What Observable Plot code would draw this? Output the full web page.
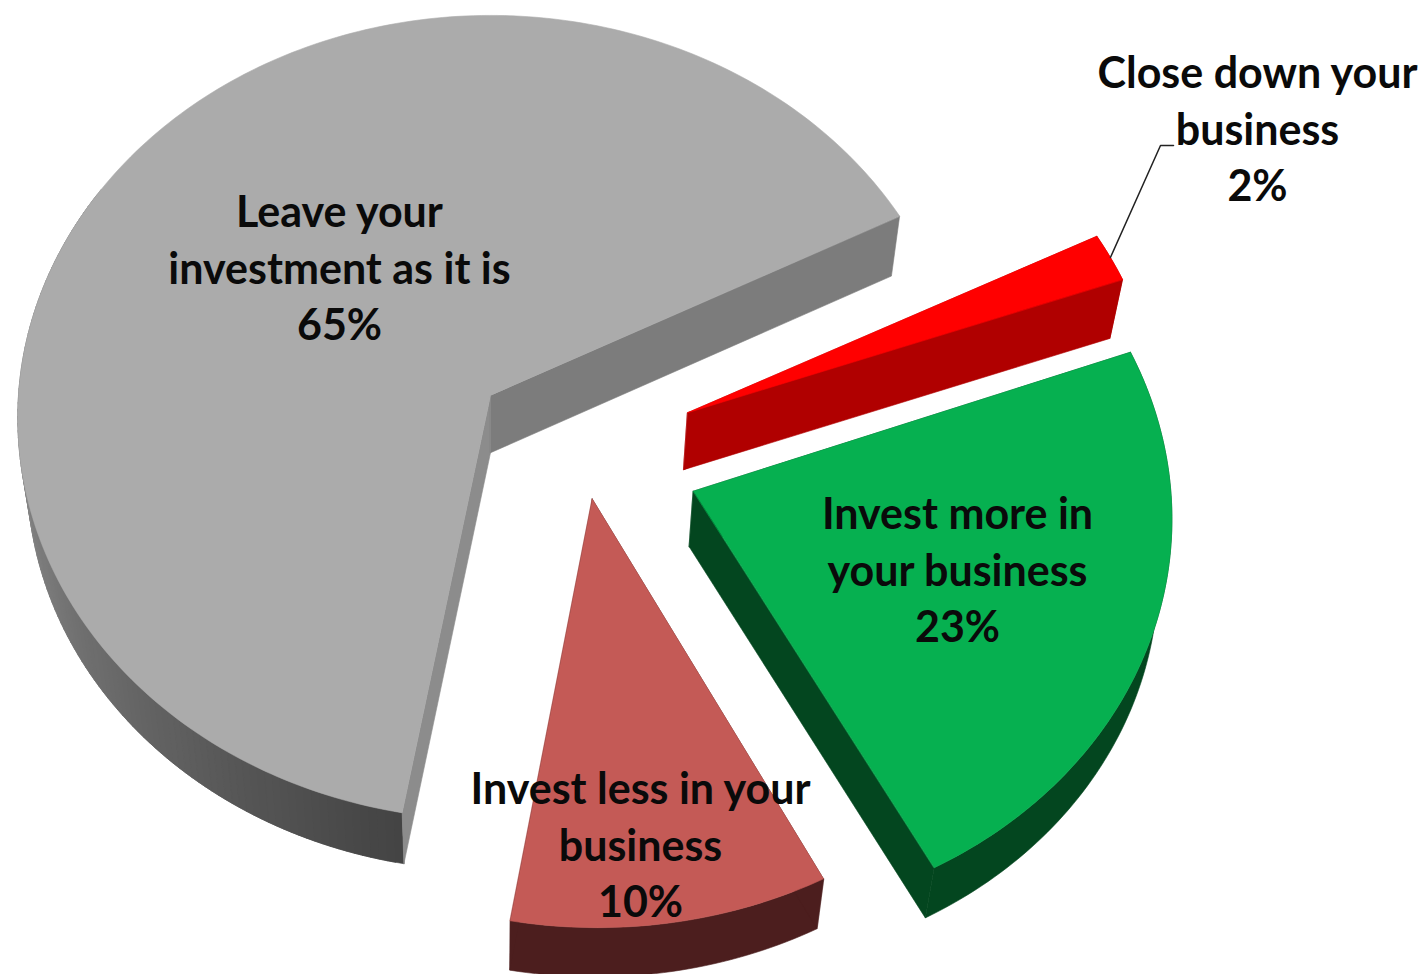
<!DOCTYPE html>
<html>
<head>
<meta charset="utf-8">
<script src="https://cdn.jsdelivr.net/npm/d3@7"></script>
<script src="https://cdn.jsdelivr.net/npm/@observablehq/plot@0.6"></script>
<style>html,body{margin:0;background:#fff}svg{display:block}</style>
</head>
<body>
<div id="chart"></div>
<script>
// Data, clockwise from the pie's first slice
const categories = ["Close down your\nbusiness", "Invest more in\nyour business", "Invest less in your\nbusiness", "Leave your\ninvestment as it is"];
const shares = [2, 23, 10, 65];

// Styles
const topColors = ["#ff0000", "#06b050", "#c45a56", "#ababab"];
const startWallColors = ["#b00000", "#03461f", "#4c1e1e", "#8c8c8c"];
const endWallColors = ["#b00000", "#03461f", "#4c1e1e", "#7c7c7c"];

// Layout of the exploded pie: slice offsets in pie radii, small perspective corrections, label anchors
const explodeU = [0.417, 0.425, 0.213, 0];
const explodeV = [0.043, 0.2376, 0.257, 0];
const startNudge = [0.2, -0.5, 0, 1.2];
const endNudge = [0, -0.7, 1, -0.3];
const sliceA = [398, 398, 398, 401];
const sliceK = [-0.0476, -0.0476, -0.0476, -0.055];
const labelX = [1257, 957, 640, 339];
const labelY = [130, 571, 846, 269];
const firstAngle = 63;
const view = {cx: 490, cy: 395, b: 472};
const depth = {scaleX: 0.98, scaleY: 0.985, dy: 63.2};

const rad = d => d * Math.PI / 180;
function project(i, u, v) {
  const w = 1 + sliceK[i] * v;
  return [view.cx + view.b * u / w, view.cy + sliceA[i] * v / w];
}
const lower = ([x, y]) => [view.cx + depth.scaleX * (x - view.cx), y * depth.scaleY + depth.dy];

const faces = [];
let faceId = 0;
function addFace(corners, color) {
  const id = faceId++;
  for (const [x, y] of corners) faces.push({id, x, y, color});
}

let running = firstAngle;
const slices = shares.map((share, i) => {
  const start = running + startNudge[i];
  running += share * 3.6;
  const end = running + endNudge[i];
  return {i, start, end, share};
});
const rim = (s, t) => {
  const a = rad(s.start + t * (s.end - s.start));
  return project(s.i, explodeU[s.i] + Math.sin(a), explodeV[s.i] - Math.cos(a));
};
const shadeGrey = d3.scaleLinear().domain([190, 262]).range(["#434343", "#868686"]).clamp(true);

// Back-to-front: grey, red, green, pink
for (const s of [slices[3], slices[0], slices[1], slices[2]]) {
  const apex = project(s.i, explodeU[s.i], explodeV[s.i]);
  const n = Math.max(8, Math.round(s.end - s.start));
  const outline = d3.range(n + 1).map(j => rim(s, j / n));
  // curved outer wall
  if (s.i === 3) {
    const visible = d3.range(n).filter(j => s.start + j / n * (s.end - s.start) < 300);
    for (const j of visible) {
      const ang = s.start + (j + 0.5) / n * (s.end - s.start);
      const last = Math.min(j + 2, n); // each band overlaps the next so no seams show
      addFace([outline[j], outline[last], lower(outline[last]), lower(outline[j])], shadeGrey(ang));
    }
  } else {
    addFace([...outline, ...outline.map(lower).reverse()], startWallColors[s.i]);
  }
  // flat cut walls
  addFace([apex, outline[0], lower(outline[0]), lower(apex)], startWallColors[s.i]);
  addFace([apex, outline[n], lower(outline[n]), lower(apex)], endWallColors[s.i]);
  // top face
  addFace([apex, ...outline], topColors[s.i]);
}

const labels = categories.map((name, i) => ({
  text: `${name}\n${shares[i]}%`, x: labelX[i], y: labelY[i]
}));
const redTip = rim(slices[0], 0.5);
const leader = [{x: redTip[0], y: redTip[1]}, {x: 1160, y: 145}, {x: 1173, y: 145}];

const chart = Plot.plot({
  width: 1423, height: 974, margin: 0,
  x: {domain: [0, 1423], range: [0, 1423], axis: null},
  y: {domain: [0, 974], range: [0, 974], axis: null},
  color: {type: "identity"},
  style: {background: "white"},
  marks: [
    Plot.line(faces, {x: "x", y: "y", z: "id", fill: "color", stroke: "color", strokeWidth: 0.6, curve: "linear-closed"}),
    Plot.line(leader, {x: "x", y: "y", stroke: "#222", strokeWidth: 1.5}),
    Plot.text(labels, {x: "x", y: "y", text: "text", fontFamily: "Lato", fontSize: 43, fontWeight: 700, lineHeight: 1.32, fill: "#0a0a0a", textAnchor: "middle", dy: -4})
  ]
});
document.getElementById("chart").append(chart);
</script>
</body>
</html>
